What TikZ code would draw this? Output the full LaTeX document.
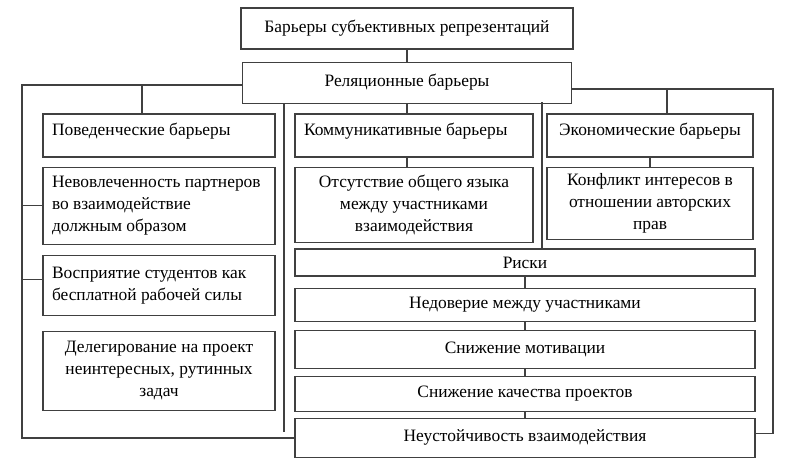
\documentclass[tikz,border=0pt]{standalone}
\usepackage{fontspec}
\setmainfont{Liberation Serif}
\usetikzlibrary{positioning}

\begin{document}
\begin{tikzpicture}[x=1pt,y=-1pt,node distance=9pt,
  font=\fontsize{17.4}{22}\selectfont,
  blok/.style={draw=black!75, line width=1.1pt, inner xsep=9pt, inner ysep=2pt, align=flush center},
  lblok/.style={blok, align=flush left, text width=#1},
  tblok/.style={text height=12pt, text depth=13pt},
  link/.style={draw=black!75, line width=1.1pt}]
\useasboundingbox (0,0) rectangle (785,464);

\node[blok, minimum width=332pt, minimum height=41pt] (b_top) at (407,28.5) {Барьеры субъективных репрезентаций};
\node[blok, minimum width=329pt, minimum height=41pt] (b_rel) [below=12pt of b_top] {Реляционные барьеры};

\node[lblok=214pt, tblok, minimum height=43pt] (b_beh) at (159,135.5) {Поведенческие барьеры};
\node[lblok=214pt, minimum height=77pt] (b_beh1) [below=9pt of b_beh] {Невовлеченность партнеров\\во взаимодействие\\должным образом};
\node[lblok=214pt, minimum height=60pt] (b_beh2) [below=10pt of b_beh1] {Восприятие студентов как\\бесплатной рабочей силы};
\node[blok, text width=214pt, minimum height=79pt] (b_beh3) [below=15pt of b_beh2] {Делегирование на проект\\неинтересных, рутинных\\задач};

\node[lblok=220pt, tblok, minimum height=43pt] (b_com) at (414,135.5) {Коммуникативные барьеры};
\node[blok, text width=220pt, minimum height=75pt] (b_com1) [below=9pt of b_com] {Отсутствие общего языка\\между участниками\\взаимодействия};

\node[blok, tblok, minimum width=206pt, minimum height=43pt] (b_eco) at (650,135.5) {Экономические барьеры};
\node[blok, minimum width=206pt, minimum height=72pt] (b_eco1) [below=9pt of b_eco] {Конфликт интересов в\\отношении авторских\\прав};

\node[blok, minimum width=460pt, minimum height=27pt] (r_0) at (525,262.5) {Риски};
\node[blok, minimum width=460pt, minimum height=33pt] (r_1) [below=11pt of r_0] {Недоверие между участниками};
\node[blok, minimum width=460pt, minimum height=38pt] (r_2) [below=8pt of r_1] {Снижение мотивации};
\node[blok, minimum width=460pt, minimum height=35pt] (r_3) [below=7pt of r_2] {Снижение качества проектов};
\node[blok, minimum width=460pt, minimum height=39pt] (r_4) [below=6pt of r_3] {Неустойчивость взаимодействия};

\coordinate (c_l) at (22,85);
\coordinate (c_lb) at (22,438);
\coordinate (c_m) at (284,432);
\coordinate (c_rm) at (542,102);
\coordinate (c_r) at (773,89);
\coordinate (c_re) at ([yshift=4pt]r_4.east);

\path[link]
(b_top) edge (b_rel)
(b_rel.south) edge (b_rel.south |- b_com.north)
(b_rel.south |- b_com.south) edge (b_rel.south |- b_com1.north)
(b_eco) edge (b_eco1)
(r_0) edge (r_1)
(r_1) edge (r_2)
(r_2) edge (r_3)
(r_3) edge (r_4)
; %end path

\draw[link] (b_rel.west |- c_l) -- (c_l) -- (c_lb) -- (c_lb -| r_4.west);
\draw[link] ([xshift=-17pt]b_beh.north) -- ([xshift=-17pt]b_beh.north |- c_l);
\draw[link] (b_beh1.west) -- (b_beh1.west -| c_l);
\draw[link] ([yshift=6pt]b_beh2.west) -- ([yshift=6pt]b_beh2.west -| c_l);
\draw[link] (c_m |- b_rel.south) -- (c_m);
\draw[link] (c_rm) -- (c_rm |- r_0.north);
\draw[link] (b_rel.east |- c_r) -- (c_r) -- (c_r |- c_re) -- (c_re);
\draw[link] ([xshift=17pt]b_eco.north) -- ([xshift=17pt]b_eco.north |- c_r);
\end{tikzpicture}
\end{document}
